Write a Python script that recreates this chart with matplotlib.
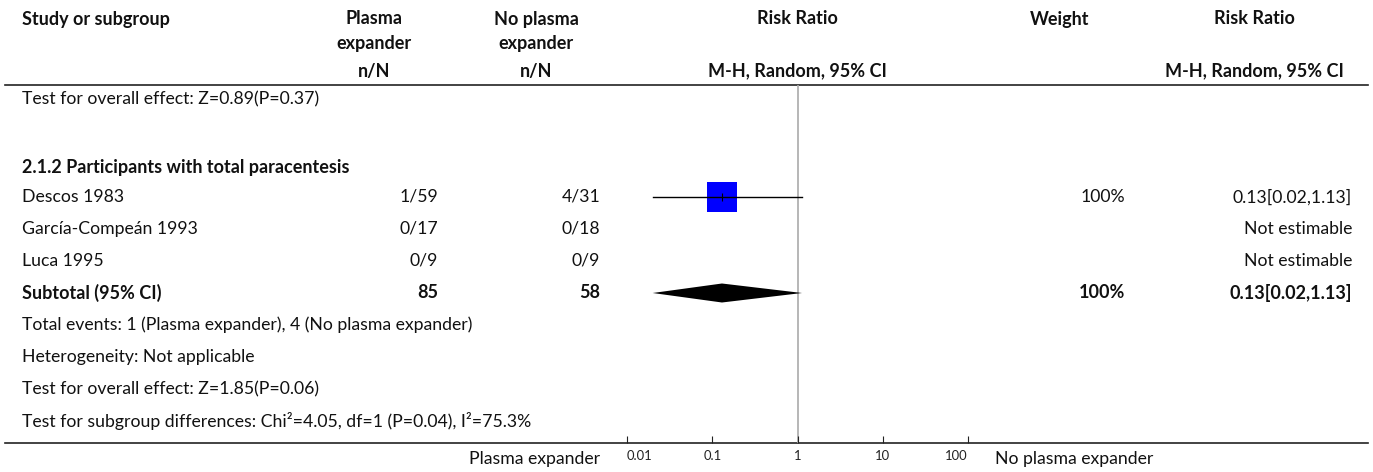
import matplotlib.pyplot as plt
from matplotlib.ticker import NullLocator
import numpy as np

plt.rcParams['font.family'] = ['Lato', 'DejaVu Sans']

# Study rows of subgroup 2.1.2
studies = ["Descos 1983", "García-Compeán 1993", "Luca 1995"]
exp_events = ["1/59", "0/17", "0/9"]
ctrl_events = ["4/31", "0/18", "0/9"]
rr = [0.13, np.nan, np.nan]
rr_low = [0.02, np.nan, np.nan]
rr_high = [1.13, np.nan, np.nan]
weight = [100, np.nan, np.nan]

# Pooled subtotal
sub_exp_total = 85
sub_ctrl_total = 58
sub_rr, sub_low, sub_high = 0.13, 0.02, 1.13
sub_weight = 100

footer_lines = [
    "Total events: 1 (Plasma expander), 4 (No plasma expander)",
    "Heterogeneity: Not applicable",
    "Test for overall effect: Z=1.85(P=0.06)",
    "Test for subgroup differences: Chi\u00b2=4.05, df=1 (P=0.04), I\u00b2=75.3%",
]
tick_vals = [0.01, 0.1, 1, 10, 100]
tick_labels = ["0.01", "0.1", "1", "10", "100"]

W, H = 1373, 472
fig = plt.figure(figsize=(W / 100, H / 100), dpi=100)
ax = fig.add_axes([0, 0, 1, 1])
ax.set_xlim(0, W)
ax.set_ylim(H, 0)
ax.axis('off')
renderer = fig.canvas.get_renderer()

def fit_size(s, width, bold=False):
    # font size that makes string s about `width` pixels wide
    t = ax.text(0, 0, s, fontsize=10, fontweight='bold' if bold else 'normal')
    w = t.get_window_extent(renderer).width
    t.remove()
    return 10 * width / w

fs = 0.5 * (fit_size("Not estimable", 109)
            + fit_size("Test for subgroup differences: Chi\u00b2=4.05, df=1 (P=0.04),", 430))
fs_b = 0.5 * (fit_size("M-H, Random, 95% CI", 175, bold=True)
              + fit_size("Study or subgroup", 150, bold=True))
fs_tick = 0.5 * (fit_size("0.01", 25) + fit_size("100", 23))

x_name, x_exp, x_ctrl, x_w, x_rr = 22, 438, 600, 1125, 1352
c_exp, c_ctrl, c_plot, c_w, c_rr = 374, 536, 797, 1060, 1254
y_top, y_axis = 85, 443

def txt(x, y, s, ha='left', bold=False):
    ax.text(x, y, s, ha=ha, va='center', fontsize=fs_b if bold else fs,
            fontweight='bold' if bold else 'normal', color='#111111')

# column headers
txt(x_name, 19, "Study or subgroup", bold=True)
txt(c_exp, 19, "Plasma", ha='center', bold=True)
txt(c_exp, 44, "expander", ha='center', bold=True)
txt(c_ctrl, 19, "No plasma", ha='center', bold=True)
txt(c_ctrl, 44, "expander", ha='center', bold=True)
txt(c_plot, 19, "Risk Ratio", ha='center', bold=True)
txt(c_w, 19, "Weight", ha='center', bold=True)
txt(c_rr, 19, "Risk Ratio", ha='center', bold=True)
txt(c_exp, 71, "n/N", ha='center', bold=True)
txt(c_ctrl, 71, "n/N", ha='center', bold=True)
txt(c_plot, 71, "M-H, Random, 95% CI", ha='center', bold=True)
txt(c_rr, 71, "M-H, Random, 95% CI", ha='center', bold=True)
ax.plot([5, 1368], [y_top, y_top], color='#222222', lw=1.2)
ax.plot([5, 1368], [y_axis, y_axis], color='#222222', lw=1.2)

txt(x_name, 99, "Test for overall effect: Z=0.89(P=0.37)")
txt(x_name, 167, "2.1.2 Participants with total paracentesis", bold=True)

# forest panel on a log scale
ax_f = fig.add_axes([627 / W, (H - y_axis) / H, (968 - 627) / W, (y_axis - y_top) / H])
ax_f.set_xscale('log')
ax_f.set_xlim(tick_vals[0], tick_vals[-1])
ax_f.set_ylim(y_axis, y_top)
ax_f.patch.set_alpha(0)
for sp in ax_f.spines.values():
    sp.set_visible(False)
ax_f.yaxis.set_visible(False)
ax_f.set_xticks(tick_vals, tick_labels)
ax_f.xaxis.set_minor_locator(NullLocator())
ax_f.tick_params(axis='x', direction='in', length=5, width=0.8,
                 labelsize=fs_tick, pad=5, colors='#222222')
lbls = ax_f.get_xticklabels()
lbls[0].set_ha('left')
lbls[-1].set_ha('right')
ax_f.axvline(1, color='#aaaaaa', lw=1.2, zorder=0)

row_y = [197, 229, 261]
for i, y in enumerate(row_y):
    txt(x_name, y, studies[i])
    txt(x_exp, y, exp_events[i], ha='right')
    txt(x_ctrl, y, ctrl_events[i], ha='right')
    if np.isnan(rr[i]):
        txt(x_rr, y, "Not estimable", ha='right')
        continue
    txt(x_w, y, f"{weight[i]:.0f}%", ha='right')
    txt(x_rr, y, f"{rr[i]:.2f}[{rr_low[i]:.2f},{rr_high[i]:.2f}]", ha='right')
    ax_f.plot([rr[i]], [y], marker='s', ms=22.3, color='#0000ff', mew=0, zorder=2)
    ax_f.plot([rr_low[i], rr_high[i]], [y, y], color='black', lw=1, zorder=3)
    ax_f.plot([rr[i]], [y], marker='|', ms=6, color='black', mew=0.8, zorder=4)

y_sub = 293
txt(x_name, y_sub, "Subtotal (95% CI)", bold=True)
txt(x_exp, y_sub, str(sub_exp_total), ha='right', bold=True)
txt(x_ctrl, y_sub, str(sub_ctrl_total), ha='right', bold=True)
txt(x_w, y_sub, f"{sub_weight}%", ha='right', bold=True)
txt(x_rr, y_sub, f"{sub_rr:.2f}[{sub_low:.2f},{sub_high:.2f}]", ha='right', bold=True)
ax_f.fill([sub_low, sub_rr, sub_high, sub_rr],
          [y_sub, y_sub - 9.5, y_sub, y_sub + 9.5], color='black', lw=0, zorder=3)

for k, line in enumerate(footer_lines):
    txt(x_name, 325 + 32 * k, line)

txt(600, 459, "Plasma expander", ha='right')
txt(995, 459, "No plasma expander")

fig.savefig("out.png", dpi=100)
